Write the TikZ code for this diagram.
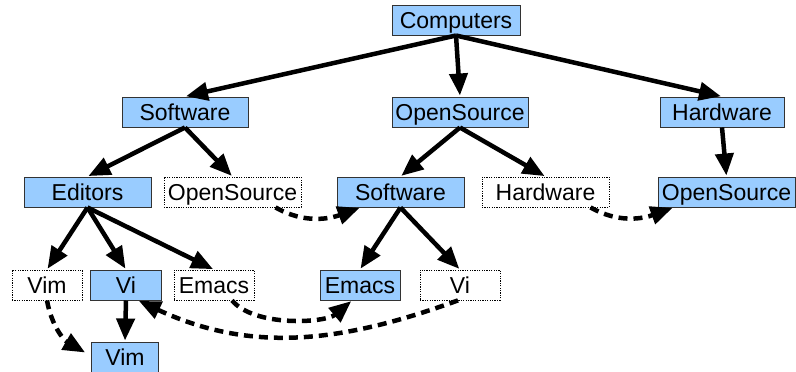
\documentclass[tikz,border=0pt]{standalone}
\usepackage{fontspec}
\setmainfont{Liberation Sans}
\usetikzlibrary{arrows.meta}
\definecolor{boxblue}{HTML}{99CCFF}
\definecolor{boxline}{HTML}{333333}
\begin{document}
\begin{tikzpicture}[x=1pt,y=-1pt,
  lbl/.style={minimum height=30pt, inner sep=0pt, text height=16.5pt, text depth=0pt,
    font=\fontsize{23}{26}\selectfont},
  box/.style={lbl, draw=boxline, line width=1pt, fill=boxblue},
  ghost/.style={lbl, draw=black, line width=0.8pt, dash pattern=on 1.2pt off 1.2pt},
  link/.style={line width=4.5pt, -{Triangle[length=22pt,width=18pt]}, shorten >=1pt},
  dlink/.style={link, dash pattern=on 9pt off 6pt}]
\useasboundingbox (0,0) rectangle (796,372);
% level 0
\node[box, minimum width=128pt] (comp) at (456,20) {Computers};
% level 1
\node[box, minimum width=126pt] (sw1) at (185,112) {Software};
\node[box, minimum width=136pt] (os1) at (460,112) {OpenSource};
\node[box, minimum width=124pt] (hw1) at (722,112) {Hardware};
% level 2
\node[box, minimum width=127pt] (ed) at (87.5,192) {Editors};
\node[ghost, minimum width=137pt] (os2a) at (232.5,192) {OpenSource};
\node[box, minimum width=127pt] (sw2) at (400.5,192) {Software};
\node[ghost, minimum width=127pt] (hw2) at (545.5,192) {Hardware};
\node[box, minimum width=137pt] (os2b) at (726.5,192) {OpenSource};
% level 3
\node[ghost, minimum width=70pt] (vim3) at (47,285) {Vim};
\node[box, minimum width=71pt] (vi3) at (126,285) {Vi};
\node[ghost, minimum width=80pt] (em3) at (214,285) {Emacs};
\node[box, minimum width=80pt] (em3b) at (360,285) {Emacs};
\node[ghost, minimum width=80pt] (vi3b) at (460,285) {Vi};
% level 4
\node[box, minimum width=67pt] (vim4) at (125,357) {Vim};
% solid arrows
\draw[link] (comp.south) -- (sw1.north);
\draw[link] (comp.south) -- (os1.north);
\draw[link] (comp.south) -- (hw1.north);
\draw[link] (sw1.south) -- (ed.north);
\draw[link] (sw1.south) -- (os2a.north);
\draw[link] (os1.south) -- (sw2.north);
\draw[link] (os1.south) -- (hw2.north);
\draw[link] (hw1.south) -- (os2b.north);
\draw[link] (ed.south) -- (vim3.north);
\draw[link] (ed.south) -- (vi3.north);
\draw[link] (ed.south) -- (em3.north);
\draw[link] (sw2.south) -- (em3b.north);
\draw[link] (sw2.south) -- (vi3b.north);
\draw[link] (vi3.south) -- (vim4.north);
% dashed arrows
\draw[dlink] ([xshift=43pt]os2a.south) to[out=-30,in=200] ([xshift=-40pt]sw2.south);
\draw[dlink] ([xshift=45pt]hw2.south) to[out=-30,in=200] ([xshift=-53pt]os2b.south);
\draw[dlink] (vim3.south) to[out=-80,in=150] ([shift={(-5,-4)}]vim4.west);
\draw[dlink] ([xshift=18pt]em3.south) to[out=-50,in=220,looseness=0.75] ([xshift=-8pt]em3b.south);
\draw[dlink] ([xshift=-2pt]vi3b.south) to[out=-160,in=-25] ([xshift=12pt]vi3.south);
\end{tikzpicture}
\end{document}
